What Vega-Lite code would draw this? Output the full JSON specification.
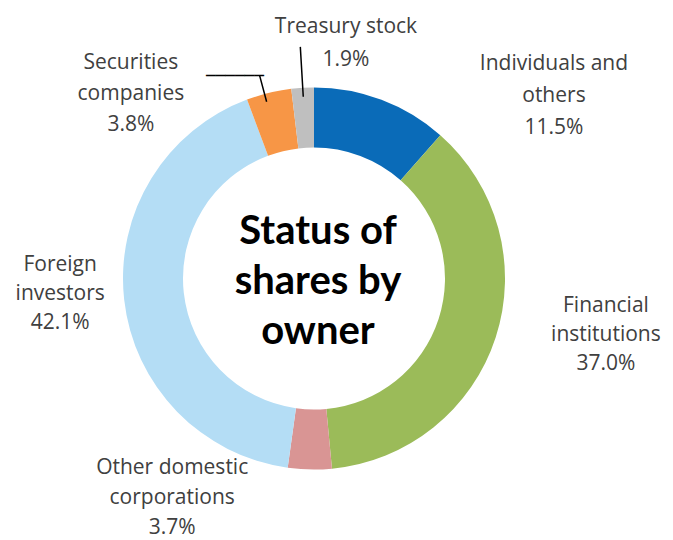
{
  "$schema": "https://vega.github.io/schema/vega-lite/v6.json",
  "width": 628,
  "height": 523,
  "autosize": {"type": "none"},
  "padding": {"left": 0, "right": 45, "top": 17, "bottom": 0},
  "background": "white",
  "view": {"stroke": null},
  "data": {
    "values": [
      {"owner": "Individuals and others", "label": "Individuals and\nothers\n11.5%", "value": 11.5, "order": 1},
      {"owner": "Financial institutions", "label": "Financial\ninstitutions\n37.0%", "value": 37.0, "order": 2},
      {"owner": "Other domestic corporations", "label": "Other domestic\ncorporations\n3.7%", "value": 3.7, "order": 3},
      {"owner": "Foreign investors", "label": "Foreign\ninvestors\n42.1%", "value": 42.1, "order": 4},
      {"owner": "Securities companies", "label": "Securities\ncompanies\n3.8%", "value": 3.8, "order": 5},
      {"owner": "Treasury stock", "label": "Treasury stock\n1.9%", "value": 1.9, "order": 6}
    ]
  },
  "transform": [
    {"stack": "value", "groupby": [], "sort": [{"field": "order", "order": "ascending"}], "as": ["t0", "t1"]}
  ],
  "layer": [
    {
      "mark": {"type": "arc", "outerRadius": 191, "innerRadius": 131},
      "encoding": {
        "theta": {"field": "t0", "type": "quantitative", "stack": null, "scale": {"domain": [0, 100]}},
        "theta2": {"field": "t1"},
        "color": {
          "field": "owner",
          "type": "nominal",
          "scale": {
            "domain": ["Individuals and others", "Financial institutions", "Other domestic corporations", "Foreign investors", "Securities companies", "Treasury stock"],
            "range": ["#0A6BB8", "#9BBB59", "#D99594", "#B4DDF5", "#F79646", "#BFBFBF"]
          },
          "legend": null
        }
      }
    },
    {
      "transform": [{"filter": "datum.order == 6"}],
      "mark": {"type": "arc", "outerRadius": 232, "innerRadius": 182, "fill": "transparent", "stroke": "#000000", "strokeWidth": 1.5, "thetaOffset": -0.059, "theta2Offset": -0.059},
      "encoding": {
        "theta": {"field": "t1", "type": "quantitative", "stack": null},
        "theta2": {"field": "t1"}
      }
    },
    {
      "transform": [{"filter": "datum.order == 5"}],
      "mark": {"type": "arc", "outerRadius": 210, "innerRadius": 183, "fill": "transparent", "stroke": "#000000", "strokeWidth": 1.5, "thetaOffset": 0.0963, "theta2Offset": 0.0963},
      "encoding": {
        "theta": {"field": "t0", "type": "quantitative", "stack": null},
        "theta2": {"field": "t0"}
      }
    },
    {
      "transform": [{"filter": "datum.order == 5"}],
      "mark": {"type": "text", "font": "DejaVu Sans", "fontSize": 16, "color": "#000000", "align": "right", "baseline": "alphabetic", "radius": 260, "dx": 41, "dy": 46},
      "encoding": {
        "theta": {"field": "t0", "type": "quantitative", "stack": null},
        "text": {"value": "──────"}
      }
    },
    {
      "transform": [{"filter": "datum.order == 1"}],
      "mark": {"type": "text", "font": "Open Sans", "fontSize": 21, "lineHeight": 32, "lineBreak": "\n", "color": "#404040", "align": "center", "baseline": "middle", "radius": 260, "dx": 68, "dy": -19},
      "encoding": {"theta": {"field": "t1", "type": "quantitative", "stack": null}, "text": {"field": "label"}}
    },
    {
      "transform": [{"filter": "datum.order == 2"}],
      "mark": {"type": "text", "font": "Open Sans", "fontSize": 21, "lineHeight": 29, "lineBreak": "\n", "color": "#404040", "align": "center", "baseline": "middle", "radius": 260, "dx": 120, "dy": 223},
      "encoding": {"theta": {"field": "t0", "type": "quantitative", "stack": null}, "text": {"field": "label"}}
    },
    {
      "transform": [{"filter": "datum.order == 3"}],
      "mark": {"type": "text", "font": "Open Sans", "fontSize": 21, "lineHeight": 30, "lineBreak": "\n", "color": "#404040", "align": "center", "baseline": "middle", "radius": 260, "dx": -106, "dy": -68},
      "encoding": {"theta": {"field": "t1", "type": "quantitative", "stack": null}, "text": {"field": "label"}}
    },
    {
      "transform": [{"filter": "datum.order == 4"}],
      "mark": {"type": "text", "font": "Open Sans", "fontSize": 21, "lineHeight": 29, "lineBreak": "\n", "color": "#404040", "align": "center", "baseline": "middle", "radius": 260, "dx": -218, "dy": -271},
      "encoding": {"theta": {"field": "t0", "type": "quantitative", "stack": null}, "text": {"field": "label"}}
    },
    {
      "transform": [{"filter": "datum.order == 5"}],
      "mark": {"type": "text", "font": "Open Sans", "fontSize": 21, "lineHeight": 31, "lineBreak": "\n", "color": "#404040", "align": "center", "baseline": "middle", "radius": 260, "dx": -92, "dy": 28},
      "encoding": {"theta": {"field": "t0", "type": "quantitative", "stack": null}, "text": {"field": "label"}}
    },
    {
      "transform": [{"filter": "datum.order == 6"}],
      "mark": {"type": "text", "font": "Open Sans", "fontSize": 21, "lineHeight": 33, "lineBreak": "\n", "color": "#404040", "align": "center", "baseline": "middle", "radius": 260, "dx": 32, "dy": 8},
      "encoding": {"theta": {"field": "t1", "type": "quantitative", "stack": null}, "text": {"field": "label"}}
    },
    {
      "transform": [{"filter": "datum.order == 1"}],
      "mark": {"type": "text", "font": "Lato", "fontSize": 40, "fontWeight": "bold", "lineHeight": 50, "lineBreak": "\n", "color": "#000000", "align": "center", "baseline": "middle", "dx": 4, "dy": -47},
      "encoding": {"text": {"value": "Status of\nshares by\nowner"}}
    }
  ]
}
